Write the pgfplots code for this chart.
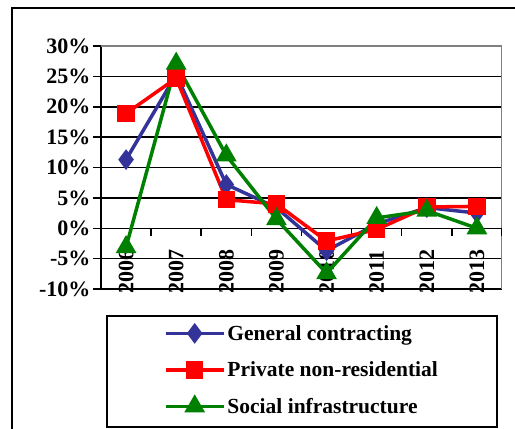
\documentclass[border=0pt]{standalone}
\usepackage{fontspec}
\setmainfont{Liberation Serif}
\usepackage{pgfplots}
\pgfplotsset{compat=1.18}
\definecolor{gc}{HTML}{333399}
\definecolor{pn}{HTML}{FF0000}
\definecolor{si}{HTML}{008000}

\begin{document}
\begin{tikzpicture}[x=1pt,y=1pt]
\path[use as bounding box] (0,0) rectangle (515,429);
\clip (0,0) rectangle (515,429);
% outer chart frame and legend box
\draw[line width=1.6pt] (12,-5) -- (12,421) -- (530,421);
\draw[line width=1.3pt] (107,2) rectangle (497,113);
\begin{axis}[
  at={(101pt,140pt)}, anchor=south west,
  width=401pt, height=243pt, scale only axis,
  xmin=0.5, xmax=8.5, ymin=-10, ymax=30,
  axis lines*=left,
  axis line style={black, line width=1.5pt},
  xtick={1,...,8},
  xticklabels={2006,2007,2008,2009,2010,2011,2012,2013},
  xtick style={draw=none},
  xticklabel style={rotate=90, anchor=west},
  ytick={-10,-5,...,30},
  yticklabels={-10\%,-5\%,0\%,5\%,10\%,15\%,20\%,25\%,30\%},
  yticklabel style={xshift=1pt},
  ytick style={black, line width=1.5pt},
  tick align=outside, major tick length=8pt,
  tick label style={font=\bfseries\fontsize{22}{24}\selectfont},
  ymajorgrids, grid style={black, line width=1.5pt},
  legend style={draw=none, fill=none, at={(0.501,-0.333)}, anchor=center,
    font=\bfseries\fontsize{21.5}{24}\selectfont, row sep=16pt},
  legend cell align=left,
  legend image code/.code={\draw[mark repeat=2, mark phase=2]
    plot coordinates {(0pt,0pt) (29pt,0pt) (58pt,0pt)};},
  every axis plot/.append style={line width=3.5pt, mark options={solid}},
]
\draw[gray, line width=1.5pt] (rel axis cs:0,1) -- (rel axis cs:1,1) -- (rel axis cs:1,0);
\draw[black, line width=1.5pt] (axis cs:0.5,0) -- (axis cs:8.5,0);
\pgfplotsinvokeforeach{1.5,2.5,3.5,4.5,5.5,6.5,7.5,8.5}{
  \draw[black, line width=1.5pt] (axis cs:#1,0) -- ++(0pt,-8pt);
}
\addplot[gc, mark=diamond*, mark size=7.5pt] coordinates {
  (1,11.3) (2,25.3) (3,7.2) (4,3.4) (5,-3.7) (6,0.7) (7,3.4) (8,2.5)};
\addplot[pn, mark=square*, mark size=7pt] coordinates {
  (1,18.9) (2,24.7) (3,4.7) (4,4.0) (5,-2.1) (6,-0.2) (7,3.5) (8,3.6)};
\addplot[si, mark=triangle*, mark size=8.5pt] coordinates {
  (1,-3.1) (2,27.1) (3,12.0) (4,1.5) (5,-7.4) (6,1.7) (7,2.9) (8,0.0)};
\legend{General contracting,Private non-residential,Social infrastructure}
\end{axis}
\end{tikzpicture}
\end{document}
